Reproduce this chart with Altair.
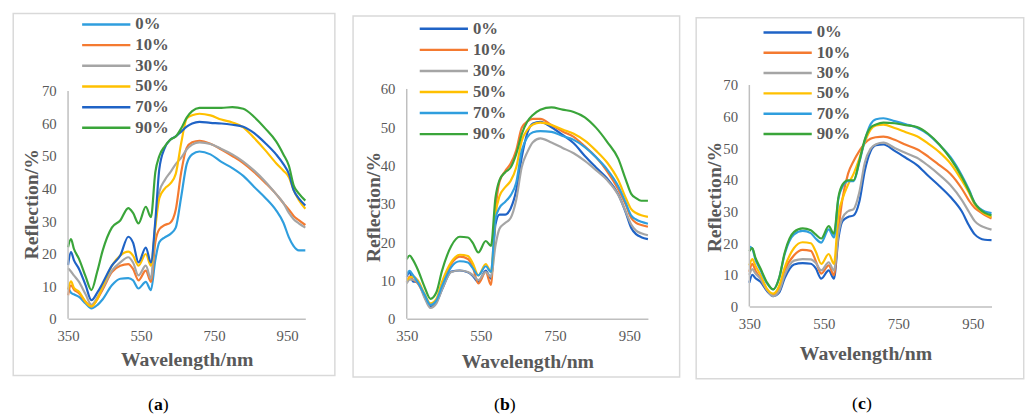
import altair as alt
import pandas as pd

WL = [350, 358, 366, 380, 398, 414, 430, 445, 470, 493, 515, 528, 543, 563, 577, 589,
      600, 615, 630, 645, 660, 675, 690, 710, 740, 770, 800, 830, 860, 890, 920, 940,
      955, 968, 982, 1000]
SERIES = ["0%", "10%", "30%", "50%", "70%", "90%"]

# panel (a)
A_0 = [9.5, 8, 7.5, 6.7, 4.7, 3.2, 4.2, 6, 10.3, 12.3, 12.5, 11.8, 9.3, 11.3, 8.8, 18, 23.5, 25, 26, 28, 37.5, 47.5, 50.5, 51.4, 50.5, 48.2, 46.3, 43.9, 40.5, 37.2, 33.3, 29.5, 25, 22.3, 21, 21]
A_10 = [7.2, 10.3, 9, 7.8, 5.2, 3.8, 6, 9, 14.3, 16.3, 16.8, 15.3, 11.8, 14.8, 11.3, 23.5, 27.5, 28.8, 29.5, 33.5, 45, 52.5, 54.2, 54.7, 53.8, 52, 50, 47.8, 45, 41.8, 38.3, 35.5, 33.5, 31.6, 30.3, 28.8]
A_30 = [15.5, 14.5, 13.3, 11.3, 7.5, 4.3, 6.5, 9.5, 14.8, 17.3, 18.9, 17.3, 13.3, 16.3, 12.3, 29, 39, 42.6, 45, 47.5, 49.5, 52, 53.5, 54.2, 53.7, 52.2, 50.5, 48.3, 45.5, 42.2, 38.3, 35.5, 32.5, 30.6, 29.3, 28]
A_50 = [9, 11.5, 9.5, 8.3, 5.2, 3.8, 6, 10, 16.3, 19.4, 20.6, 19.4, 16.3, 19.9, 16.3, 28, 37, 40, 41.5, 44.5, 54, 61.5, 62.5, 63, 62.5, 61.2, 60.3, 58.8, 55.5, 51.8, 47.8, 45.5, 43.5, 39.5, 36.5, 33.8]
A_70 = [16.5, 20.5, 18, 15.3, 10.3, 5.7, 8, 11, 16.3, 19.4, 25.2, 23.4, 17.3, 21.9, 17.3, 30, 46, 52.5, 55, 56, 57.5, 59, 60, 60.5, 60.2, 60, 59.6, 59, 57, 54, 50.5, 47.5, 44.5, 39.5, 37, 34.8]
A_90 = [22, 24.5, 21.5, 18.4, 13, 8.8, 14.5, 21, 28, 30.2, 34, 32.5, 29.3, 34.4, 31.2, 45, 50, 53, 55, 56, 58.5, 61.8, 63.8, 64.8, 64.8, 64.8, 65, 64.5, 62, 58.5, 54.5, 50.5, 47, 41, 38.5, 36.3]

# panel (b)
B_0 = [11, 12.2, 9.8, 9.5, 5.8, 3.2, 4.4, 7.6, 12.3, 12.6, 12.1, 11.2, 9.6, 12.6, 10.5, 24.5, 27.2, 27.2, 28.8, 33.5, 42.2, 48.5, 51, 51.4, 50, 48, 45.8, 42.5, 39.5, 36.6, 32.5, 27.8, 23.7, 22.1, 21.3, 20.8]
B_10 = [9.5, 11, 10.3, 9.2, 6.1, 3.6, 4.8, 8.8, 14.3, 16.2, 15.6, 13.5, 9.2, 12.2, 8.8, 28, 35.8, 38.5, 40.5, 44, 49.9, 51.5, 52.2, 52.2, 50.6, 48.9, 47.5, 45, 42.2, 38.5, 33.8, 29.8, 26.3, 25, 24.5, 24]
B_30 = [9.2, 10.2, 10.2, 9.5, 5.5, 2.8, 4, 7.6, 12.2, 12.6, 12.2, 11.4, 10.1, 12.2, 10.9, 19, 23.5, 25, 26.3, 31, 39.6, 43.5, 46.1, 47.1, 46, 44.6, 43.2, 41.2, 38.8, 36.2, 32.3, 28, 24.6, 23, 22.3, 21.8]
B_50 = [10, 10.8, 11, 10, 6.5, 4.0, 5.2, 9.6, 14.8, 16.7, 16.4, 14.5, 11.3, 14.3, 12.2, 27, 32, 34.3, 36, 39.5, 46.5, 49.3, 50.7, 51.2, 50.6, 49.4, 48.3, 46.5, 43.9, 40.8, 36.2, 31.6, 28.6, 27.6, 27, 26.6]
B_70 = [11.5, 12.5, 11.5, 9.5, 6.3, 3.6, 4.8, 8.5, 13.5, 15, 14.7, 13.2, 11.3, 13.7, 12.2, 26, 29, 30.5, 32.2, 35.5, 43.9, 47.4, 48.7, 49.0, 48.8, 47.7, 46.7, 44.8, 42.2, 39, 34.6, 30.3, 26.9, 25.9, 25.3, 24.8]
B_90 = [15.5, 16.5, 15.5, 12.8, 8.3, 5.2, 6.9, 12.5, 19.0, 21.4, 21.2, 19.8, 17.3, 20.3, 19.0, 31.5, 36.2, 38.2, 39.5, 43, 48.2, 51.5, 53.2, 54.6, 55.2, 54.6, 54, 52.6, 49.9, 46.2, 41.8, 36.4, 32.6, 31.5, 30.8, 30.8]

# panel (c)
C_0 = [7.5, 10, 9, 7.8, 4.8, 3.3, 4.4, 9, 13.3, 13.7, 13.5, 12.1, 8.8, 11.4, 8.8, 21.5, 27, 28.3, 28.8, 33, 43, 49, 51, 51.2, 49.2, 47, 44.7, 41.3, 38.1, 34.6, 30.1, 25.5, 22.8, 21.6, 21.1, 21]
C_10 = [11, 13.5, 11.5, 8.8, 5.2, 3.6, 5.7, 11.4, 16.2, 17.9, 17.6, 14.5, 10.4, 13.0, 9.9, 24, 34, 42, 46, 49.1, 51.6, 53, 53.5, 53.7, 52.7, 51.1, 49.7, 47.4, 44.7, 41.9, 37.3, 33.4, 31.1, 30, 28.9, 27.8]
C_30 = [10, 11.8, 10.5, 8.8, 5.2, 3.3, 4.9, 10, 14.5, 15, 14.9, 13.8, 11.4, 14, 11.4, 23, 28, 30.1, 30.8, 36, 45.5, 49.8, 51.3, 51.8, 50.1, 48.5, 47, 44.5, 41.6, 38.3, 33.7, 29.8, 27, 25.7, 25, 24.3]
C_50 = [13, 15, 13, 10, 5.5, 4.1, 6.5, 12.4, 18.5, 20.3, 20, 17.5, 13.5, 16.6, 13.5, 29, 34, 38.5, 42, 46.7, 52, 55.8, 57.2, 57.5, 56.4, 55.1, 53.8, 51.5, 48.8, 45.2, 39.9, 35.9, 32.2, 30.6, 29.3, 28.3]
C_70 = [19, 18.3, 15, 11.5, 7.2, 5.4, 9, 16.6, 22.8, 23.9, 23.2, 21.5, 20.2, 24.4, 21.8, 34, 37.9, 39.6, 39.6, 45.5, 52.5, 57.5, 59.2, 59.5, 58.6, 57.6, 56.5, 54.4, 51.1, 47.2, 41.5, 36.8, 32.7, 31, 30, 29.5]
C_90 = [17.5, 18.5, 15.5, 12, 7.5, 5.4, 9, 17.1, 23.6, 24.7, 24.1, 22.8, 21.5, 25.4, 23, 34.5, 38.5, 39.9, 39.9, 45.8, 52.8, 56.5, 57.5, 58.1, 57.9, 57.3, 56.7, 54.6, 51.2, 46.7, 41, 36.4, 32.7, 30.8, 29.6, 28.8]

X_TICKS = [350, 550, 750, 950]
Y_TICKS_70 = [0, 10, 20, 30, 40, 50, 60, 70]
Y_TICKS_60 = [0, 10, 20, 30, 40, 50, 60]

LIGHT_BLUE = "#2F9EDE"
DARK_BLUE = "#1F63C6"
ORANGE = "#F47A30"
GRAY = "#A5A5A5"
YELLOW = "#FFC000"
GREEN = "#3AA53A"
COLORS_A = [LIGHT_BLUE, ORANGE, GRAY, YELLOW, DARK_BLUE, GREEN]
COLORS_BC = [DARK_BLUE, ORANGE, GRAY, YELLOW, LIGHT_BLUE, GREEN]

FONT = "Liberation Serif"
TXT = "#595959"
AXIS_GRAY = "#BFBFBF"


def make_panel(series_vals, colors, y_ticks, letter, g):
    rows = []
    for name, vals in zip(SERIES, series_vals):
        for w, v in zip(WL, vals):
            rows.append({"wl": w, "val": v, "series": name})
    df = pd.DataFrame(rows)
    one = pd.DataFrame({"k": [0]})
    yaxis_df = pd.DataFrame({"val": [y_ticks[0]], "val_top": [y_ticks[-1]]})
    yscale = alt.Scale(domain=[0, g["ymax"]], nice=False)
    yaxis = alt.Axis(values=y_ticks, title="Reflection/%", grid=False, ticks=False,
                     domain=False, labelFont=FONT,
                     labelFontSize=15, labelColor=TXT, labelPadding=12,
                     labelOverlap=False,
                     titleFont=FONT, titleFontSize=20, titleFontWeight="bold",
                     titleColor=TXT, titleAngle=270, titleX=g["yt"][0],
                     titleY=g["yt"][1], titleBaseline="alphabetic",
                     titleAlign="center", zindex=1)

    frame = alt.Chart(one).mark_rect(fill="white", opacity=0).encode(
        x=alt.value(g["frame"][0]), x2=alt.value(g["frame"][1]),
        y=alt.value(g["frame"][2]), y2=alt.value(g["frame"][3]))
    border = alt.Chart(one).mark_rect(fill="white", fillOpacity=0, stroke="#D9D9D9",
                                      strokeWidth=1.5).encode(
        x=alt.value(g["border"][0]), x2=alt.value(g["border"][1]),
        y=alt.value(g["border"][2]), y2=alt.value(g["border"][3]))

    legend = alt.Legend(
        title=None, orient="none", legendX=g["leg"][0], legendY=g["leg"][1],
        symbolType="M-4.9,0H4.9", symbolSize=100, symbolStrokeWidth=2.5,
        labelFont=FONT, labelFontWeight="bold", labelFontSize=17, labelColor=TXT,
        labelOffset=21, rowPadding=g["leg"][2], padding=0, labelLimit=200, zindex=1)

    lines = alt.Chart(df).mark_line(strokeWidth=2.2, interpolate="monotone").encode(
        x=alt.X("wl:Q", scale=alt.Scale(domain=[350, 1000], nice=False, zero=False),
                axis=alt.Axis(values=X_TICKS, title="Wavelength/nm", grid=False, ticks=False,
                              domainColor=AXIS_GRAY, domainWidth=1.5, labelFont=FONT,
                              labelFontSize=15, labelColor=TXT, labelPadding=10,
                              labelFlush=False, labelOverlap=False,
                              titleFont=FONT, titleFontSize=20, titleFontWeight="bold",
                              titleColor=TXT, titleX=g["xt"][0], titleY=g["xt"][1],
                              titleBaseline="alphabetic", titleAlign="center", zindex=1)),
        y=alt.Y("val:Q", scale=yscale, axis=yaxis),
        color=alt.Color("series:N", scale=alt.Scale(domain=SERIES, range=colors),
                        sort=SERIES, legend=legend),
    )

    # y axis line, drawn from the lowest to the highest tick through the y scale
    yline = alt.Chart(yaxis_df).mark_rule(color=AXIS_GRAY, strokeWidth=1.5).encode(
        x=alt.value(0),
        y=alt.Y("val:Q", scale=yscale, axis=yaxis),
        y2="val_top:Q")

    cx, cy, hw = g["cap"]
    cap_l = alt.Chart(one).mark_text(text="(", font=FONT, fontSize=18, color="#000000",
                                     align="right", baseline="middle").encode(
        x=alt.value(cx - hw), y=alt.value(cy))
    cap_m = alt.Chart(one).mark_text(text=letter, font=FONT, fontSize=18, fontWeight="bold",
                                     color="#000000", align="center", baseline="middle").encode(
        x=alt.value(cx), y=alt.value(cy))
    cap_r = alt.Chart(one).mark_text(text=")", font=FONT, fontSize=18, color="#000000",
                                     align="left", baseline="middle").encode(
        x=alt.value(cx + hw), y=alt.value(cy))

    return alt.layer(frame, border, lines, yline, cap_l, cap_m, cap_r).properties(
        width=g["w"], height=g["h"])


GA = dict(w=241, h=237.4, ymax=71.82, frame=(-61, 282, -74.3, 327.7),
          border=(-55.7, 271, -72.6, 295), leg=(30.3, -70, 3.0),
          xt=(120.5, 48), yt=(-31, 120.7), cap=(91.8, 325, 4.5))
GB = dict(w=245, h=237.4, ymax=61.03, frame=(-61.5, 286.5, -74.3, 327.7),
          border=(-54.5, 277.2, -70, 296.7), leg=(29.2, -65.6, 3.4),
          xt=(122.5, 49.3), yt=(-27.8, 123.4), cap=(99.7, 324.7, 5))
GC = dict(w=246, h=225, ymax=70, frame=(-60.3, 279.7, -74.3, 327.7),
          border=(-54, 278.7, -68.3, 298.4), leg=(30.4, -61.8, 2.6),
          xt=(118, 53.5), yt=(-29, 113.4), cap=(114.4, 323.7, 4))

pa = make_panel([A_0, A_10, A_30, A_50, A_70, A_90], COLORS_A, Y_TICKS_70, "a", GA)
pb = make_panel([B_0, B_10, B_30, B_50, B_70, B_90], COLORS_BC, Y_TICKS_60, "b", GB)
pc = make_panel([C_0, C_10, C_30, C_50, C_70, C_90], COLORS_BC, Y_TICKS_70, "c", GC)

chart = (
    alt.hconcat(pa, pb, pc, spacing=0)
    .resolve_scale(color="independent", x="independent", y="independent")
    .resolve_legend(color="independent")
    .properties(padding=0, background="white")
    .configure_view(stroke=None)
)

chart.save("out.html", embed_options={"renderer": "svg", "actions": False})
